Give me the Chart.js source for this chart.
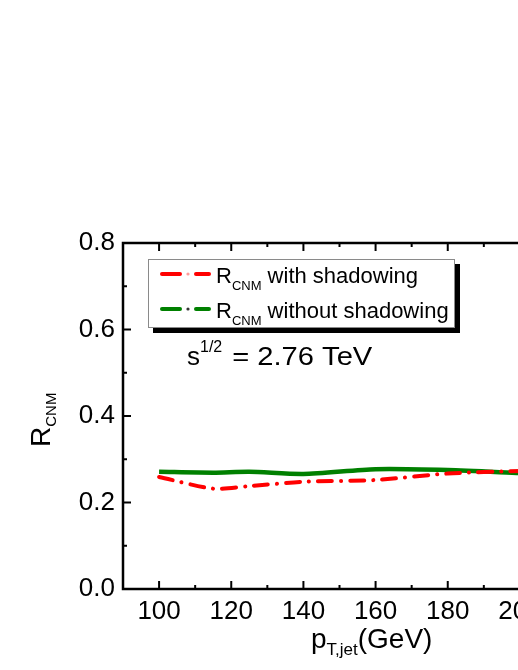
<!DOCTYPE html>
<html>
<head>
<meta charset="utf-8">
<title>R_CNM vs pT,jet</title>
<script src="https://cdn.jsdelivr.net/npm/chart.js"></script>
<style>
  html, body { margin: 0; padding: 0; background: #fff; overflow: hidden; }
  #wrap { width: 580px; height: 670px; }
</style>
</head>
<body>
<div id="wrap"><canvas id="rcnm" width="580" height="670"></canvas></div>
<script>
// values
const ptJet = [100, 115, 125, 140, 160, 180, 200];
const rWithShadow = [0.259, 0.232, 0.238, 0.248, 0.252, 0.267, 0.273];
const rWithoutShadow = [0.271, 0.269, 0.271, 0.266, 0.277, 0.275, 0.268];
const xTicks = [100, 120, 140, 160, 180, 200];
const yTicks = [0.0, 0.2, 0.4, 0.6, 0.8];
const seriesNames = ['with shadowing', 'without shadowing'];

const FONT = '"Liberation Sans", Arial, sans-serif';

function pts(ys) {
  return ptJet.map((x, i) => ({ x: x, y: ys[i] }));
}

// draws pieces [text, size, dy] one after another
function drawRun(ctx, x, y, parts) {
  for (const p of parts) {
    ctx.font = p[1] + 'px ' + FONT;
    ctx.fillText(p[0], x, y + (p[2] || 0));
    x += ctx.measureText(p[0]).width;
  }
  return x;
}

function seg(ctx, x1, y1, x2, y2) {
  ctx.beginPath();
  ctx.moveTo(x1, y1);
  ctx.lineTo(x2, y2);
  ctx.stroke();
}

// box + inward ticks on all sides
const framePlugin = {
  id: 'frame',
  afterDatasetsDraw(chart) {
    const { ctx, chartArea: a, scales: { x, y } } = chart;
    ctx.save();
    ctx.strokeStyle = '#000';
    ctx.lineWidth = 2.5;
    ctx.strokeRect(a.left, a.top, a.right - a.left, a.bottom - a.top);
    ctx.lineWidth = 2;
    for (let v = 90; v <= 210; v += 10) {
      const px = x.getPixelForValue(v);
      const len = v % 20 === 0 ? 8 : 4;
      seg(ctx, px, a.bottom, px, a.bottom - len);
      seg(ctx, px, a.top, px, a.top + len);
    }
    for (let i = 0; i <= 8; i++) {
      const py = y.getPixelForValue(i / 10);
      const len = i % 2 === 0 ? 8 : 4;
      seg(ctx, a.left, py, a.left + len, py);
      seg(ctx, a.right, py, a.right - len, py);
    }
    ctx.restore();
  }
};

// legend, annotation, axis titles (with sub/superscripts)
const textPlugin = {
  id: 'texts',
  afterDraw(chart) {
    const ctx = chart.ctx;
    const ds = chart.data.datasets;
    ctx.save();
    ctx.fillStyle = '#000';
    ctx.textBaseline = 'alphabetic';

    // legend box with shadow
    ctx.fillRect(153, 264, 307, 69);
    ctx.fillStyle = '#fff';
    ctx.fillRect(148, 259, 307, 69);
    ctx.strokeStyle = '#8a8a8a';
    ctx.lineWidth = 1;
    ctx.strokeRect(148.5, 259.5, 306, 68);

    const rows = [274, 309];
    ds.forEach((d, i) => {
      const yy = rows[i];
      ctx.strokeStyle = d.borderColor;
      ctx.lineWidth = 4;
      ctx.lineCap = 'round';
      seg(ctx, 162, yy, 180, yy);
      seg(ctx, 196, yy, 209, yy);
      ctx.fillStyle = i === 0 ? '#ff9a9a' : '#333';
      ctx.beginPath();
      ctx.arc(188, yy, 1.6, 0, Math.PI * 2);
      ctx.fill();
      ctx.fillStyle = '#000';
      drawRun(ctx, 216, yy + 9, [['R', 22], ['CNM', 13, 7], [' ' + seriesNames[i], 22]]);
    });

    // sqrt(s)
    let xx = drawRun(ctx, 187, 365, [['s', 26], ['1/2', 16, -13]]);
    ctx.save();
    ctx.translate(xx + 10, 365);
    ctx.scale(1.12, 1);
    drawRun(ctx, 0, 0, [['= 2.76 TeV', 26]]);
    ctx.restore();

    // x title
    drawRun(ctx, 311, 648, [['p', 28], ['T,jet', 17, 7], ['(GeV)', 28]]);

    // y title
    ctx.save();
    ctx.translate(50, 447);
    ctx.rotate(-Math.PI / 2);
    drawRun(ctx, 0, 0, [['R', 28], ['CNM', 15, 6]]);
    ctx.restore();

    ctx.restore();
  }
};

new Chart(document.getElementById('rcnm'), {
  type: 'line',
  data: {
    datasets: [{
      label: 'R_CNM ' + seriesNames[0],
      data: pts(rWithShadow),
      borderColor: '#ff0000',
      borderWidth: 4,
      borderDash: [14, 9, 0.1, 9],
      borderCapStyle: 'round',
      tension: 0.25,
      pointRadius: 0,
      fill: false
    }, {
      label: 'R_CNM ' + seriesNames[1],
      data: pts(rWithoutShadow),
      borderColor: '#008000',
      borderWidth: 4.5,
      tension: 0.25,
      pointRadius: 0,
      fill: false
    }]
  },
  options: {
    responsive: false,
    animation: false,
    devicePixelRatio: 1,
    layout: { padding: { top: 243, left: 0, right: 24, bottom: 0 } },
    plugins: { legend: { display: false }, tooltip: { enabled: false } },
    scales: {
      x: {
        type: 'linear',
        min: 90,
        max: 210,
        afterFit(s) { s.height = 81; },
        afterBuildTicks(s) { s.ticks = xTicks.map(v => ({ value: v })); },
        grid: { display: false, drawTicks: false },
        border: { display: false },
        ticks: { color: '#000', padding: 7, font: { family: FONT, size: 26 }, maxRotation: 0 }
      },
      y: {
        type: 'linear',
        min: 0,
        max: 0.8,
        afterFit(s) { s.width = 123; },
        afterBuildTicks(s) { s.ticks = yTicks.map(v => ({ value: v })); },
        grid: { display: false, drawTicks: false },
        border: { display: false },
        ticks: {
          color: '#000', padding: 8, font: { family: FONT, size: 26 },
          callback: v => Number(v).toFixed(1)
        }
      }
    }
  },
  plugins: [framePlugin, textPlugin]
});
</script>
</body>
</html>
